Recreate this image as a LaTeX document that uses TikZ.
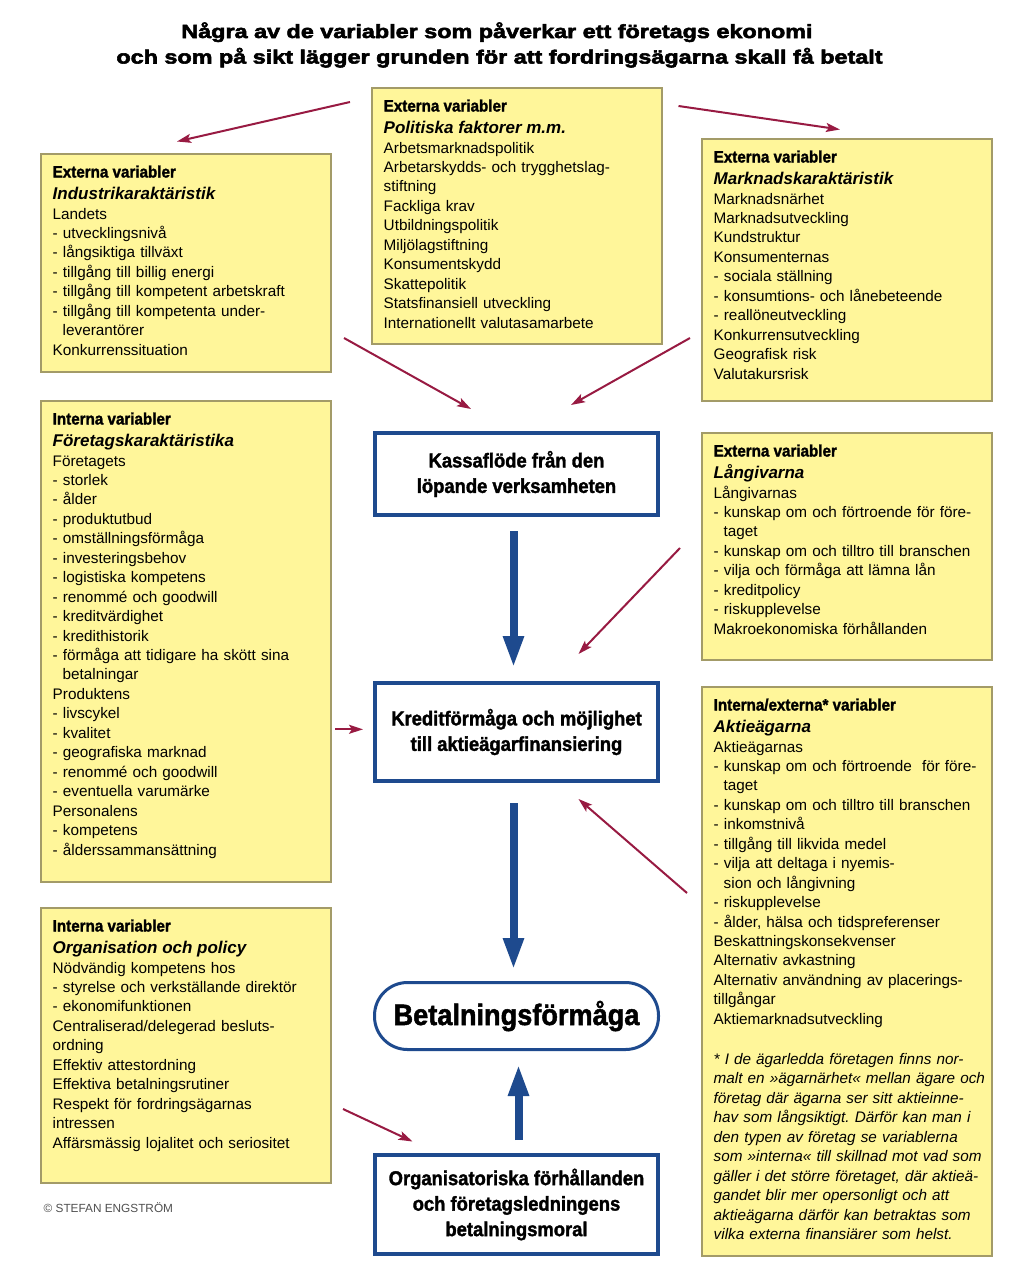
\documentclass[tikz,border=0pt]{standalone}
\usepackage{fontspec}
\setmainfont{Liberation Sans}
\newfontfamily\condfont{Liberation Sans}[FakeStretch=0.92,FakeBold=1.6]
\newfontfamily\titlefont{Liberation Sans}[FakeStretch=1.23,FakeBold=3]
\usetikzlibrary{arrows.meta}
\definecolor{yfill}{HTML}{FFF69A}
\definecolor{yline}{HTML}{A39B68}
\definecolor{bblue}{HTML}{1E4A8E}
\definecolor{rred}{HTML}{981A42}
\definecolor{cgray}{HTML}{505050}
\newcommand\cind{\hspace*{10pt}}
\frenchspacing
\begin{document}
\begin{tikzpicture}[x=1pt,y=-1pt,
  ybox/.style={draw=yline, fill=yfill, line width=1.2pt, inner sep=0pt, outer sep=0pt, anchor=north west, minimum width=290pt},
  hdr/.style={inner sep=0pt, anchor=base west, font=\condfont\bfseries\fontsize{16.5}{19}\selectfont},
  ttl/.style={inner sep=0pt, anchor=base west, font=\bfseries\itshape\fontsize{17}{20}\selectfont},
  body/.style={inner sep=0pt, anchor=base west, align=left, text width=285pt, font=\fontsize{15.3}{19.45}\selectfont},
  bbox/.style={draw=bblue, line width=4pt, fill=white, align=center, inner sep=0pt, minimum width=283pt, font=\condfont\bfseries\fontsize{20}{25.5}\selectfont},
  barr/.style={draw=bblue, line width=8pt, -{Triangle[length=32pt,width=19pt]}},
  rarr/.style={draw=rred, line width=2pt, -{Stealth[length=14pt,width=9pt,inset=3pt]}},
  tline/.style={inner sep=0pt, anchor=base, font=\titlefont\bfseries\fontsize{19}{25.5}\selectfont}
]
\fill[white] (0,0) rectangle (1024,1266);
\useasboundingbox (0,0) rectangle (1024,1266);

% title
\node[tline] (title1) at (497,38) {Några av de variabler som påverkar ett företags ekonomi};
\node[tline] (title2) at (499.5,63.5) {och som på sikt lägger grunden för att fordringsägarna skall få betalt};

% Politiska
\node[ybox, minimum height=256pt] (pol) at (372,88) {};
\node[hdr] (polh) at (383.5,111.5) {Externa variabler};
\node[ttl] (polt) at (383.5,133.5) {Politiska faktorer m.m.};
\node[body] (polb) at (383.5,153) {Arbetsmarknadspolitik\\
Arbetarskydds- och trygghetslag-\\
stiftning\\
Fackliga krav\\
Utbildningspolitik\\
Miljölagstiftning\\
Konsumentskydd\\
Skattepolitik\\
Statsfinansiell utveckling\\
Internationellt valutasamarbete};

% Industri
\node[ybox, minimum height=218pt] (ind) at (41,154) {};
\node[hdr] (indh) at (52.5,177.5) {Externa variabler};
\node[ttl] (indt) at (52.5,199.5) {Industrikaraktäristik};
\node[body] (indb) at (52.5,219) {Landets\\
- utvecklingsnivå\\
- långsiktiga tillväxt\\
- tillgång till billig energi\\
- tillgång till kompetent arbetskraft\\
- tillgång till kompetenta under-\\
\cind leverantörer\\
Konkurrenssituation};

% Marknad
\node[ybox, minimum height=262pt] (mark) at (702,139) {};
\node[hdr] (markh) at (713.5,162.5) {Externa variabler};
\node[ttl] (markt) at (713.5,184.5) {Marknadskaraktäristik};
\node[body] (markb) at (713.5,204) {Marknadsnärhet\\
Marknadsutveckling\\
Kundstruktur\\
Konsumenternas\\
- sociala ställning\\
- konsumtions- och lånebeteende\\
- reallöneutveckling\\
Konkurrensutveckling\\
Geografisk risk\\
Valutakursrisk};

% Foretag
\node[ybox, minimum height=481pt] (foret) at (41,401) {};
\node[hdr] (foreth) at (52.5,424.5) {Interna variabler};
\node[ttl] (forett) at (52.5,446.5) {Företagskaraktäristika};
\node[body] (foretb) at (52.5,466) {Företagets\\
- storlek\\
- ålder\\
- produktutbud\\
- omställningsförmåga\\
- investeringsbehov\\
- logistiska kompetens\\
- renommé och goodwill\\
- kreditvärdighet\\
- kredithistorik\\
- förmåga att tidigare ha skött sina\\
\cind betalningar\\
Produktens\\
- livscykel\\
- kvalitet\\
- geografiska marknad\\
- renommé och goodwill\\
- eventuella varumärke\\
Personalens\\
- kompetens\\
- ålderssammansättning};

% Langivarna
\node[ybox, minimum height=227pt] (lang) at (702,433) {};
\node[hdr] (langh) at (713.5,456.5) {Externa variabler};
\node[ttl] (langt) at (713.5,478.5) {Långivarna};
\node[body] (langb) at (713.5,498) {Långivarnas\\
- kunskap om och förtroende för före-\\
\cind taget\\
- kunskap om och tilltro till branschen\\
- vilja och förmåga att lämna lån\\
- kreditpolicy\\
- riskupplevelse\\
Makroekonomiska förhållanden};

% Aktieagarna
\node[ybox, minimum height=569pt] (aktie) at (702,687) {};
\node[hdr] (aktieh) at (713.5,710.5) {Interna/externa* variabler};
\node[ttl] (aktiet) at (713.5,732.5) {Aktieägarna};
\node[body] (aktieb) at (713.5,752) {Aktieägarnas\\
- kunskap om och förtroende\ \ för före-\\
\cind taget\\
- kunskap om och tilltro till branschen\\
- inkomstnivå\\
- tillgång till likvida medel\\
- vilja att deltaga i nyemis-\\
\cind sion och långivning\\
- riskupplevelse\\
- ålder, hälsa och tidspreferenser\\
Beskattningskonsekvenser\\
Alternativ avkastning\\
Alternativ användning av placerings-\\
tillgångar\\
Aktiemarknadsutveckling};
\node[body, font=\itshape\fontsize{15.3}{19.5}\selectfont] (aktief) at (713.5,1064) {* I de ägarledda företagen finns nor-\\
malt en »ägarnärhet« mellan ägare och\\
företag där ägarna ser sitt aktieinne-\\
hav som långsiktigt. Därför kan man i\\
den typen av företag se variablerna\\
som »interna« till skillnad mot vad som\\
gäller i det större företaget, där aktieä-\\
gandet blir mer opersonligt och att\\
aktieägarna därför kan betraktas som\\
vilka externa finansiärer som helst.};

% Organisation
\node[ybox, minimum height=275pt] (org) at (41,908) {};
\node[hdr] (orgh) at (52.5,931.5) {Interna variabler};
\node[ttl] (orgt) at (52.5,953.5) {Organisation och policy};
\node[body] (orgb) at (52.5,973) {Nödvändig kompetens hos\\
- styrelse och verkställande direktör\\
- ekonomifunktionen\\
Centraliserad/delegerad besluts-\\
ordning\\
Effektiv attestordning\\
Effektiva betalningsrutiner\\
Respekt för fordringsägarnas\\
intressen\\
Affärsmässig lojalitet och seriositet};

% copyright
\node[inner sep=0pt, anchor=base west, text=cgray, font=\fontsize{11.8}{14}\selectfont] (copy) at (43.5,1212) {© STEFAN ENGSTRÖM};

% blue boxes
\node[bbox, minimum height=82pt] (kassa) at (516.5,474) {Kassaflöde från den\\löpande verksamheten};
\node[bbox, minimum height=98pt] (kredit) at (516.5,732) {Kreditförmåga och möjlighet\\till aktieägarfinansiering};
\node[bbox, line width=3pt, minimum width=284pt, minimum height=67pt, rounded corners=33pt, font=\condfont\bfseries\fontsize{29.5}{34}\selectfont] (betal) at (516.5,1016) {Betalningsförmåga};
\node[bbox, minimum height=99pt] (orgm) at (516.5,1204.5) {Organisatoriska förhållanden\\och företagsledningens\\betalningsmoral};

% blue arrows
\draw[barr, shorten <=14pt, shorten >=13pt] ([xshift=-3pt]kassa.south) -- ([xshift=-3pt]kredit.north);
\draw[barr, shorten <=20pt, shorten >=11pt] ([xshift=-3pt]kredit.south) -- ([xshift=-3pt]betal.north);
\draw[barr, shorten <=13pt, shorten >=13pt] ([xshift=2pt]orgm.north) -- ([xshift=2pt]betal.south);

% red arrows
\coordinate (r1s) at (350,102);   \coordinate (r1e) at (177,141.5);
\coordinate (r2s) at (678.5,106); \coordinate (r2e) at (840,129.5);
\coordinate (r3s) at (344,338);   \coordinate (r3e) at (471,409);
\coordinate (r4s) at (690,338);   \coordinate (r4e) at (571,405);
\coordinate (r5s) at (680,548);   \coordinate (r5e) at (578.5,654);
\coordinate (r6s) at (335,729.3); \coordinate (r6e) at (363,729.3);
\coordinate (r7s) at (687,893);   \coordinate (r7e) at (578.5,799);
\coordinate (r8s) at (343,1109);  \coordinate (r8e) at (412.5,1141.5);
\foreach \i in {1,...,8} { \draw[rarr] (r\i s) -- (r\i e); }
\end{tikzpicture}
\end{document}
